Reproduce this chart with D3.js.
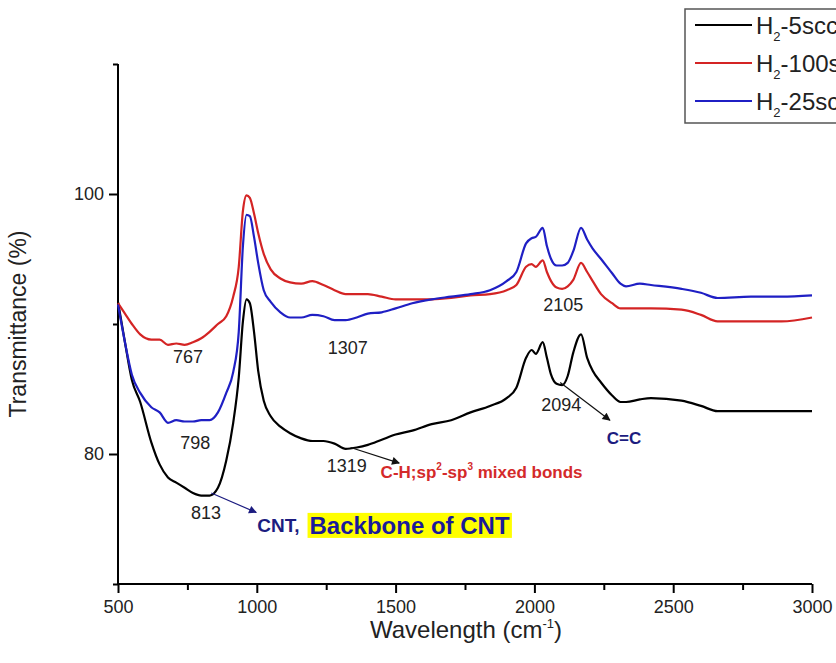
<!DOCTYPE html>
<html>
<head>
<meta charset="utf-8">
<script src="https://cdn.jsdelivr.net/npm/d3@7"></script>
<style>
body { margin: 0; background: #fff; }
svg { display: block; font-family: "Liberation Sans", Arial, sans-serif; }
</style>
</head>
<body>
<script>
const w = 836
const h = 663

// wavenumber grid (cm-1) shared by the three spectra
const wavenumbers = [500, 525, 550, 580, 620, 650, 680, 710, 740, 770, 800, 830, 860, 890, 915, 935, 950, 963, 975, 990,
	1005, 1025, 1050, 1085, 1120, 1160, 1200, 1240, 1280, 1320, 1360, 1400, 1450, 1500, 1560, 1630, 1700, 1770, 1840, 1900,
	1935, 1970, 1990, 2005, 2030, 2045, 2060, 2080, 2100, 2120, 2140, 2168, 2190, 2210, 2240, 2280, 2310, 2330, 2380, 2420,
	2530, 2600, 2660, 2780, 2890, 3000]

const h2_5 = [91.7, 88.6, 85.7, 84.0, 80.9, 79.2, 78.2, 77.8, 77.4, 77.0, 76.8, 76.8, 77.4, 79.5, 82.4, 85.9, 90.2, 91.9, 91.6, 89.4,
	86.4, 84.1, 82.9, 82.1, 81.6, 81.2, 81.0, 81.0, 80.8, 80.4, 80.5, 80.7, 81.1, 81.5, 81.8, 82.3, 82.6, 83.2, 83.7, 84.3,
	85.1, 87.4, 88.0, 87.7, 88.6, 87.4, 86.1, 85.4, 85.3, 86.0, 87.8, 89.2, 87.4, 86.4, 85.5, 84.5, 84.0, 84.0, 84.2, 84.3,
	84.1, 83.7, 83.3, 83.3, 83.3, 83.3]

const h2_100 = [91.6, 90.8, 90.0, 89.2, 88.8, 88.8, 88.4, 88.5, 88.4, 88.6, 88.9, 89.4, 90.0, 90.6, 92.1, 94.4, 98.7, 99.9, 99.7, 98.5,
	97.0, 95.4, 94.2, 93.5, 93.2, 93.1, 93.3, 93.0, 92.6, 92.3, 92.3, 92.3, 92.1, 91.9, 91.9, 91.9, 92.0, 92.2, 92.3, 92.6,
	93.0, 94.4, 94.6, 94.4, 94.9, 94.0, 93.3, 92.8, 92.7, 92.9, 93.4, 94.7, 94.0, 93.3, 92.3, 91.6, 91.2, 91.2, 91.2, 91.2,
	91.1, 90.7, 90.2, 90.2, 90.2, 90.5]

const h2_25 = [91.5, 88.6, 86.1, 84.7, 83.6, 83.2, 82.4, 82.6, 82.5, 82.5, 82.6, 82.6, 83.2, 84.7, 86.3, 89.4, 96.0, 98.4, 98.3, 96.7,
	94.7, 92.6, 91.7, 90.9, 90.5, 90.5, 90.7, 90.6, 90.3, 90.3, 90.5, 90.8, 90.9, 91.2, 91.6, 91.9, 92.1, 92.3, 92.6, 93.3,
	94.0, 96.2, 96.6, 96.7, 97.4, 96.0, 95.0, 94.5, 94.5, 94.7, 95.6, 97.4, 96.5, 95.8, 95.0, 93.9, 93.1, 92.9, 93.1, 93.0,
	92.7, 92.4, 92.0, 92.1, 92.1, 92.2]

const seriesNames = ["-5sccm", "-100sccm", "-25sccm"]
const seriesColors = ["#000000", "#d42424", "#1f1fc4"]

const xTicks = [500, 1000, 1500, 2000, 2500, 3000]
const yTicks = [80, 100]

// peak labels: [text, wavenumber, transmittance]
const peakLabels = [
	["767", 752, 87.5],
	["1307", 1328, 88.2],
	["798", 778, 80.85],
	["813", 817, 75.45],
	["1319", 1324, 79.1],
	["2105", 2104, 91.45],
	["2094", 2097, 83.8]
]

const svg = d3.select("body").append("svg")
	.attr("width", w)
	.attr("height", h)

const x = d3.scaleLinear().domain([500, 3000]).range([118, 812])
const y = d3.scaleLinear().domain([70, 110]).range([584, 64])

// arrow heads
const defs = svg.append("defs")
const addMarker = function(id, color) {
	defs.append("marker")
		.attr("id", id)
		.attr("viewBox", "0 0 10 10")
		.attr("refX", 9).attr("refY", 5)
		.attr("markerWidth", 10).attr("markerHeight", 8)
		.attr("markerUnits", "userSpaceOnUse")
		.attr("orient", "auto")
		.append("path")
		.attr("d", "M0,0L10,5L0,10Z")
		.attr("fill", color)
}
addMarker("arrNavy", "#1c1c80")
addMarker("arrBlack", "#111")

// axes
const xAxis = d3.axisBottom(x).tickValues(xTicks).tickSize(9).tickPadding(7).tickFormat(d3.format("d"))
const xMinor = d3.axisBottom(x).tickValues([750, 1250, 1750, 2250, 2750]).tickSize(6).tickFormat("")
const yAxis = d3.axisLeft(y).tickValues(yTicks).tickSize(9).tickPadding(5)
const yMinor = d3.axisLeft(y).tickValues([70, 90, 110]).tickSize(5).tickFormat("")

const styleAxis = function(g) {
	g.select(".domain").attr("stroke-width", 2).attr("stroke", "#000")
	g.selectAll(".tick line").attr("stroke-width", 2).attr("stroke", "#000")
	g.selectAll(".tick text").attr("font-size", 18).attr("fill", "#222")
		.attr("font-family", "Liberation Sans, Arial, sans-serif")
}

svg.append("g").attr("transform", "translate(0," + y(70) + ")").call(xMinor).call(styleAxis)
	.select(".domain").remove()
svg.append("g").attr("transform", "translate(" + x(500) + ",0)").call(yMinor).call(styleAxis)
	.select(".domain").remove()
svg.append("g").attr("transform", "translate(0," + y(70) + ")").call(xAxis).call(styleAxis)
	.selectAll(".domain").attr("d", "M" + x(500) + ",0H" + x(3000))
svg.append("g").attr("transform", "translate(" + x(500) + ",0)").call(yAxis).call(styleAxis)
	.selectAll(".domain").attr("d", "M0," + y(110) + "V" + y(70))

// axis titles
const xTitle = svg.append("text")
	.attr("x", 466).attr("y", 638)
	.attr("text-anchor", "middle")
	.attr("font-size", 24).attr("fill", "#222")
xTitle.append("tspan").text("Wavelength (cm")
xTitle.append("tspan").attr("font-size", 13).attr("dy", -10).text("-1")
xTitle.append("tspan").attr("dy", 10).text(")")

svg.append("text")
	.attr("transform", "translate(26," + y(90) + ") rotate(-90)")
	.attr("text-anchor", "middle")
	.attr("font-size", 23).attr("fill", "#222")
	.text("Transmittance (%)")

// spectra
const seriesValues = [h2_5, h2_100, h2_25]
const line = d3.line()
	.x((d, i) => x(wavenumbers[i]))
	.y(d => y(d))
	.curve(d3.curveMonotoneX)

svg.selectAll("path.spectrum")
	.data(seriesValues)
	.enter()
	.append("path")
	.attr("class", "spectrum")
	.attr("d", d => line(d))
	.attr("fill", "none")
	.attr("stroke", (d, i) => seriesColors[i])
	.attr("stroke-width", 2.2)
	.attr("stroke-linejoin", "round")

// peak numbers
svg.selectAll("text.peak")
	.data(peakLabels)
	.enter()
	.append("text")
	.attr("class", "peak")
	.attr("x", d => x(d[1]))
	.attr("y", d => y(d[2]))
	.attr("dy", "0.35em")
	.attr("text-anchor", "middle")
	.attr("font-size", 18)
	.attr("fill", "#222")
	.text(d => d[0])

// arrows
const arrow = function(x1, y1, x2, y2, color, marker) {
	svg.append("line")
		.attr("x1", x(x1)).attr("y1", y(y1))
		.attr("x2", x(x2)).attr("y2", y(y2))
		.attr("stroke", color)
		.attr("stroke-width", 1.2)
		.attr("marker-end", "url(#" + marker + ")")
}
arrow(836, 77.0, 998, 75.5, "#1c1c80", "arrNavy")
arrow(1338, 80.5, 1513, 79.3, "#111", "arrBlack")
arrow(2093, 85.5, 2272, 82.6, "#111", "arrBlack")

// bond annotations
svg.append("text")
	.attr("x", x(2323)).attr("y", y(81.2)).attr("dy", "0.35em")
	.attr("text-anchor", "middle")
	.attr("font-size", 17).attr("font-weight", "bold").attr("fill", "#1c1c80")
	.text("C=C")

const ch = svg.append("text")
	.attr("x", x(1446)).attr("y", y(78.6)).attr("dy", "0.35em")
	.attr("font-size", 17).attr("font-weight", "bold").attr("fill", "#d42a2a")
ch.append("tspan").text("C-H;sp")
ch.append("tspan").attr("font-size", 10).attr("dy", -8).text("2")
ch.append("tspan").attr("dy", 8).text("-sp")
ch.append("tspan").attr("font-size", 10).attr("dy", -8).text("3")
ch.append("tspan").attr("dy", 8).text(" mixed bonds")

svg.append("text")
	.attr("x", x(1002)).attr("y", y(74.5)).attr("dy", "0.35em")
	.attr("font-size", 19).attr("font-weight", "bold").attr("fill", "#1c1c80")
	.text("CNT,")

const highlight = svg.append("rect").attr("fill", "#ffff00")
const backbone = svg.append("text")
	.attr("x", x(1190)).attr("y", y(74.5)).attr("dy", "0.35em")
	.attr("font-size", 24).attr("font-weight", "bold").attr("fill", "#1a1a9a")
	.text("Backbone of CNT")
const bb = backbone.node().getBBox()
highlight
	.attr("x", bb.x - 2).attr("y", bb.y + 1)
	.attr("width", bb.width + 4).attr("height", bb.height - 2)

// legend
const legend = svg.append("g").attr("transform", "translate(685,9)")
legend.append("rect")
	.attr("width", 170).attr("height", 114)
	.attr("fill", "#fff")
	.attr("stroke", "#555")
	.attr("stroke-width", 1.5)

const rows = legend.selectAll("g.row")
	.data(seriesNames)
	.enter()
	.append("g")
	.attr("class", "row")
	.attr("transform", (d, i) => "translate(0," + (16 + i * 38) + ")")

rows.append("line")
	.attr("x1", 10).attr("x2", 67)
	.attr("stroke", (d, i) => seriesColors[i])
	.attr("stroke-width", 2.2)

const labels = rows.append("text")
	.attr("x", 71).attr("y", 9)
	.attr("font-size", 24).attr("fill", "#222")
labels.append("tspan").text("H")
labels.append("tspan").attr("font-size", 13).attr("dy", 7).text("2")
labels.append("tspan").attr("dy", -7).text(d => d)
</script>
</body>
</html>
